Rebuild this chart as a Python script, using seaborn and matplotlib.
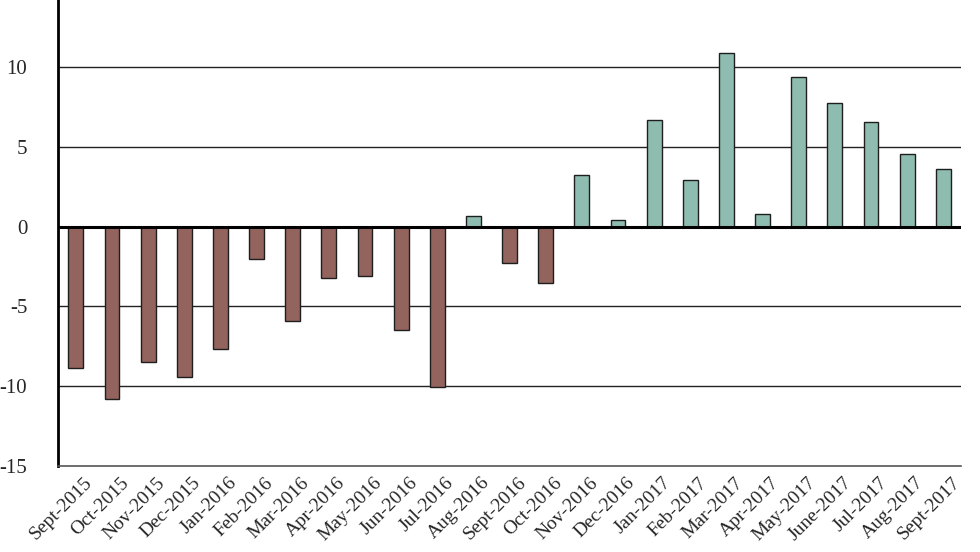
import pandas as pd
import seaborn as sns
import matplotlib.pyplot as plt
import matplotlib.transforms as mtransforms

months = ["Sept-2015", "Oct-2015", "Nov-2015", "Dec-2015", "Jan-2016", "Feb-2016",
          "Mar-2016", "Apr-2016", "May-2016", "Jun-2016", "Jul-2016", "Aug-2016",
          "Sept-2016", "Oct-2016", "Nov-2016", "Dec-2016", "Jan-2017", "Feb-2017",
          "Mar-2017", "Apr-2017", "May-2017", "June-2017", "Jul-2017", "Aug-2017",
          "Sept-2017"]
values = [-8.85, -10.8, -8.5, -9.43, -7.68, -2.03, -5.9, -3.2, -3.1, -6.48, -10.04, 0.67,
          -2.28, -3.56, 3.26, 0.44, 6.67, 2.9, 10.9, 0.8, 9.37, 7.72, 6.54, 4.56, 3.62]
yticks = [-15, -10, -5, 0, 5, 10]

df = pd.DataFrame({"Month": months, "Value": values})
df["Sign"] = ["neg" if v < 0 else "pos" for v in df["Value"]]

sns.set_style("white")
plt.rcParams['font.family'] = ['Liberation Serif', 'DejaVu Serif']

fig = plt.figure(figsize=(9.8, 5.52), dpi=100)
ax = fig.add_axes([0.059, 0.156, 0.922, 0.844])

# grid lines behind the bars
for y in [-10, -5, 5, 10]:
    ax.axhline(y, color="#222222", lw=1, zorder=0)

sns.barplot(data=df, x="Month", y="Value", hue="Sign", order=months,
            palette={"neg": "#93635e", "pos": "#8fbcb0"}, dodge=False,
            saturation=1, width=0.41, edgecolor="#1e1e1e", linewidth=1,
            legend=False, zorder=2, ax=ax)

ax.axhline(0, color="black", lw=2.2, zorder=3)

ax.set_ylim(-15, 14.2)
ax.set_xlim(-0.5, 24.5)
ax.set_yticks(yticks)
ax.set_yticklabels([str(t) for t in yticks], fontsize=15)
ax.set_xlabel("")
ax.set_ylabel("")
ax.tick_params(axis="y", length=0, pad=22)
ax.tick_params(axis="x", length=0, pad=6)
shift = mtransforms.ScaledTranslation(0.08, 0, fig.dpi_scale_trans)
for lab in ax.get_xticklabels():
    lab.set_rotation(45)
    lab.set_ha("right")
    lab.set_rotation_mode("anchor")
    lab.set_fontsize(14)
    lab.set_transform(lab.get_transform() + shift)

sns.despine(ax=ax, top=True, right=True)
ax.spines["left"].set_linewidth(2)
ax.spines["left"].set_color("black")
ax.spines["bottom"].set_linewidth(1.2)
ax.spines["bottom"].set_color("#555555")

fig.savefig("out.png", dpi=100)
